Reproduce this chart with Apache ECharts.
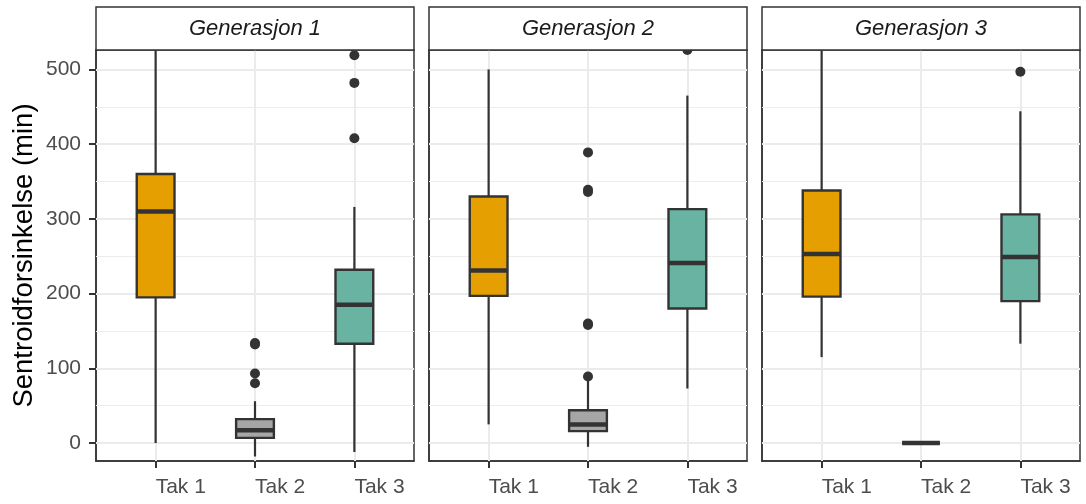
<!DOCTYPE html>
<html>
<head>
<meta charset="utf-8">
<title>Sentroidforsinkelse per generasjon</title>
<script src="https://cdn.jsdelivr.net/npm/echarts@6/dist/echarts.min.js"></script>
<style>
  html, body { margin: 0; padding: 0; background: #ffffff; }
  #chart { width: 1086px; height: 504px; }
</style>
</head>
<body>
<div id="chart"></div>
<script>
// Roof categories and generation panels
const tiers = ['Tak 1', 'Tak 2', 'Tak 3'];
const generations = ['Generasjon 1', 'Generasjon 2', 'Generasjon 3'];

// Box statistics per roof: [lower whisker, Q1, median, Q3, upper whisker]
const gen1Boxes = [[0, 195, 310, 360, 570], [-18, 7, 17, 32, 56], [-12, 133, 185, 232, 316]];
const gen2Boxes = [[25, 197, 231, 330, 500], [-5, 16, 25, 44, 86], [73, 180, 241, 313, 465]];
const gen3Boxes = [[115, 196, 253, 338, 545], [0, 0, 0, 0, 0], [133, 190, 249, 306, 444]];

// Outliers: [roof number, delay]
const gen1Outliers = [[2, 134], [2, 132], [2, 93], [2, 80], [3, 519], [3, 482], [3, 408]];
const gen2Outliers = [[2, 389], [2, 339], [2, 336], [2, 160], [2, 158], [2, 89], [3, 526]];
const gen3Outliers = [[3, 497]];

// Axis ticks and grid lines
const yTicks = [0, 100, 200, 300, 400, 500];
const yMinorLines = [50, 150, 250, 350, 450];
const xTicks = [1, 2, 3];

const boxesByGen = [gen1Boxes, gen2Boxes, gen3Boxes];
const outliersByGen = [gen1Outliers, gen2Outliers, gen3Outliers];

const tierColors = ['#E69F00', '#A6A6A6', '#69B3A2'];
const ink = '#333333';
const FONT = "'Liberation Sans', Arial, Helvetica, sans-serif";

const panelLeft = [96, 429, 762];
const panelWidth = 318;
const panelTop = 50;
const panelBottom = 43;
const Y_MIN = -24, Y_MAX = 526;
const BOX_W = 0.38;

function renderBox(params, api) {
  const x = api.value(0);
  const lo = api.coord([x, api.value(1)]);
  const q1 = api.coord([x, api.value(2)]);
  const med = api.coord([x, api.value(3)]);
  const q3 = api.coord([x, api.value(4)]);
  const hi = api.coord([x, api.value(5)]);
  const half = api.size([BOX_W, 0])[0] / 2;
  const fill = tierColors[Math.round(x) - 1];
  const lineStyle = { stroke: ink, lineWidth: 2.2, fill: null };
  return {
    type: 'group',
    children: [
      { type: 'line', shape: { x1: lo[0], y1: lo[1], x2: q1[0], y2: q1[1] }, style: lineStyle },
      { type: 'line', shape: { x1: q3[0], y1: q3[1], x2: hi[0], y2: hi[1] }, style: lineStyle },
      { type: 'rect', shape: { x: q3[0] - half, y: q3[1], width: half * 2, height: q1[1] - q3[1] },
        style: { fill: fill, stroke: ink, lineWidth: 2.4 } },
      { type: 'line', shape: { x1: med[0] - half, y1: med[1], x2: med[0] + half, y2: med[1] },
        style: { stroke: ink, lineWidth: 4.5, fill: null } }
    ]
  };
}

const grids = [], xAxes = [], yAxes = [], series = [], graphics = [];

generations.forEach((gen, i) => {
  grids.push({
    left: panelLeft[i], width: panelWidth, top: panelTop, bottom: panelBottom,
    show: true, borderColor: ink, borderWidth: 1.5, backgroundColor: 'transparent'
  });

  xAxes.push({
    type: 'value', gridIndex: i, min: 0.4, max: 3.6,
    axisLine: { show: true, onZero: false, lineStyle: { color: ink, width: 1.5 } },
    axisTick: { show: true, customValues: xTicks, length: 7, lineStyle: { color: ink, width: 2 } },
    axisLabel: {
      show: true, customValues: xTicks, margin: 16, align: 'left',
      formatter: v => tiers[Math.round(v) - 1],
      fontSize: 21, color: '#4D4D4D', fontFamily: FONT
    },
    splitLine: { show: false }
  });

  yAxes.push({
    type: 'value', gridIndex: i, min: Y_MIN, max: Y_MAX,
    name: i === 0 ? 'Sentroidforsinkelse (min)' : '',
    nameLocation: 'middle', nameGap: 58,
    nameTextStyle: { fontSize: 27.5, color: '#000000', fontFamily: FONT },
    axisLine: { show: true, onZero: false, lineStyle: { color: ink, width: 1.5 } },
    axisTick: { show: i === 0, customValues: yTicks, length: 7, lineStyle: { color: ink, width: 2 } },
    axisLabel: {
      show: i === 0, customValues: yTicks, margin: 15,
      fontSize: 21, color: '#4D4D4D', fontFamily: FONT
    },
    splitLine: { show: false }
  });

  series.push({
    type: 'custom', xAxisIndex: i, yAxisIndex: i,
    renderItem: renderBox, clip: true, z: 3,
    encode: { x: 0, y: [1, 2, 3, 4, 5] },
    data: boxesByGen[i].map((b, k) => [k + 1].concat(b)),
    silent: true
  });

  const gridLines = []
    .concat(yTicks.map(v => ({ yAxis: v, lineStyle: { width: 2, color: '#EBEBEB', type: 'solid' } })))
    .concat(yMinorLines.map(v => ({ yAxis: v, lineStyle: { width: 1, color: '#EDEDED', type: 'solid' } })))
    .concat(xTicks.map(v => ({ xAxis: v, lineStyle: { width: 2, color: '#EBEBEB', type: 'solid' } })));

  series.push({
    type: 'scatter', xAxisIndex: i, yAxisIndex: i,
    symbol: 'circle', symbolSize: 10, z: 4,
    itemStyle: { color: ink, opacity: 1 },
    data: outliersByGen[i],
    silent: true,
    markLine: {
      silent: true, symbol: 'none', z: 1, animation: false,
      label: { show: false },
      data: gridLines
    }
  });

  // facet strip above each panel
  graphics.push({
    type: 'rect', z: 100,
    shape: { x: panelLeft[i], y: 7, width: panelWidth, height: panelTop - 7 },
    style: { fill: '#ffffff', stroke: ink, lineWidth: 1.5 }
  });
  graphics.push({
    type: 'text', z: 101,
    x: panelLeft[i] + panelWidth / 2, y: 29,
    style: {
      text: gen, fill: '#1A1A1A', align: 'center', verticalAlign: 'middle',
      font: "italic 22px " + FONT
    }
  });
});

const chart = echarts.init(document.getElementById('chart'), null, { renderer: 'canvas' });
chart.setOption({
  animation: false,
  backgroundColor: '#ffffff',
  grid: grids,
  xAxis: xAxes,
  yAxis: yAxes,
  series: series,
  graphic: graphics
});
</script>
</body>
</html>
